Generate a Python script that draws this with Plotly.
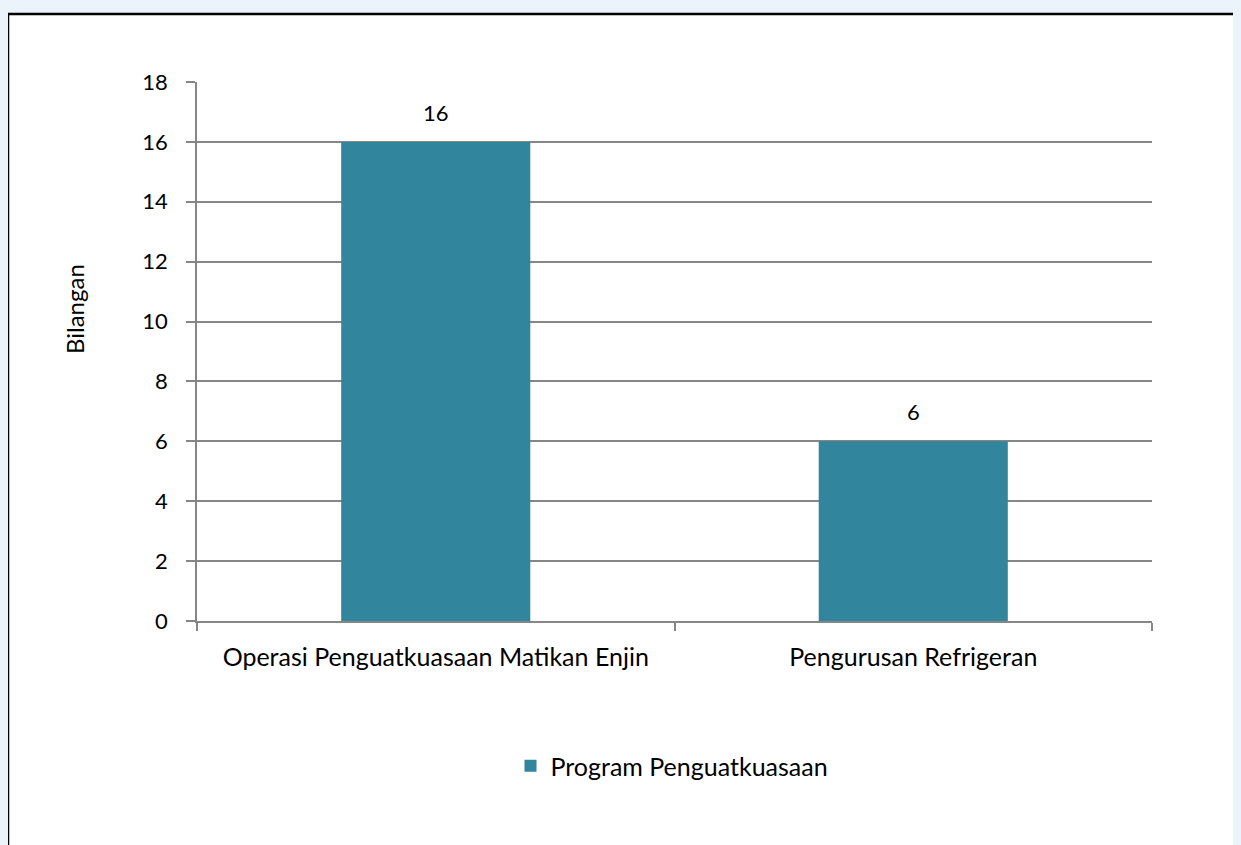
import plotly.graph_objects as go

categories = ["Operasi Penguatkuasaan Matikan Enjin", "Pengurusan Refrigeran"]
values = [16, 6]
series_name = "Program Penguatkuasaan"
y_ticks = [0, 2, 4, 6, 8, 10, 12, 14, 16, 18]

# page offset (body margin) compensation
OFF = 8
W, H = 1241 - OFF, 845 - OFF
L, R, T, B = 197 - OFF, 1152 - OFF, 82 - OFF, 621 - OFF
pw, ph = R - L, B - T

def px(x):
    return (x - OFF - L) / pw

def py(y):
    return (B - (y - OFF)) / ph

FONT = "Lato"
TXT = 25
NUM = 22
fig = go.Figure()
fig.add_trace(go.Bar(
    x=categories, y=values, name=series_name,
    marker=dict(color="#31859C", line=dict(width=0)),
))

annotations = [dict(x=c, y=v, xref="x", yref="y", text=str(v), showarrow=False,
                    yanchor="bottom", xanchor="center", yshift=14,
                    font=dict(family=FONT, size=NUM, color="#000000"))
               for c, v in zip(categories, values)]
annotations.append(dict(text="Bilangan", xref="paper", yref="paper", x=px(74), y=py(309),
                        xanchor="center", yanchor="middle", textangle=-90, showarrow=False,
                        font=dict(family=FONT, size=24, color="#000000")))

fig.update_layout(
    width=W, height=H,
    margin=dict(l=L, r=W - R, t=T, b=H - B),
    paper_bgcolor="#eaf4fa",
    plot_bgcolor="rgba(0,0,0,0)",
    font=dict(family=FONT, size=TXT, color="#000000"),
    bargap=0.604,
    showlegend=True,
    legend=dict(orientation="h", x=px(672), xanchor="center", y=py(766), yanchor="middle",
                font=dict(family=FONT, size=TXT, color="#000000"), bgcolor="rgba(0,0,0,0)",
                itemwidth=30),
    xaxis=dict(showline=True, linecolor="#868686", linewidth=1.8,
               ticks="outside", tickson="boundaries", ticklen=8, tickcolor="#868686", tickwidth=1.8,
               showgrid=False, ticklabelstandoff=13,
               tickfont=dict(family=FONT, size=TXT, color="#000000")),
    yaxis=dict(range=[0, 18], tickvals=y_ticks, showline=True, linecolor="#868686", linewidth=1.8,
               ticks="outside", ticklen=9, tickcolor="#868686", tickwidth=1.8,
               showgrid=True, gridcolor="#868686", gridwidth=1.8, zeroline=False,
               ticklabelstandoff=14,
               tickfont=dict(family=FONT, size=NUM, color="#000000")),
    shapes=[dict(type="rect", xref="paper", yref="paper", layer="below",
                 x0=px(8), x1=px(1260), y0=py(880), y1=py(14),
                 fillcolor="#ffffff", line=dict(color="#000000", width=2.5))],
    annotations=annotations,
)

fig.write_html("out.html", post_script="document.body.style.background='#eaf4fa';")
